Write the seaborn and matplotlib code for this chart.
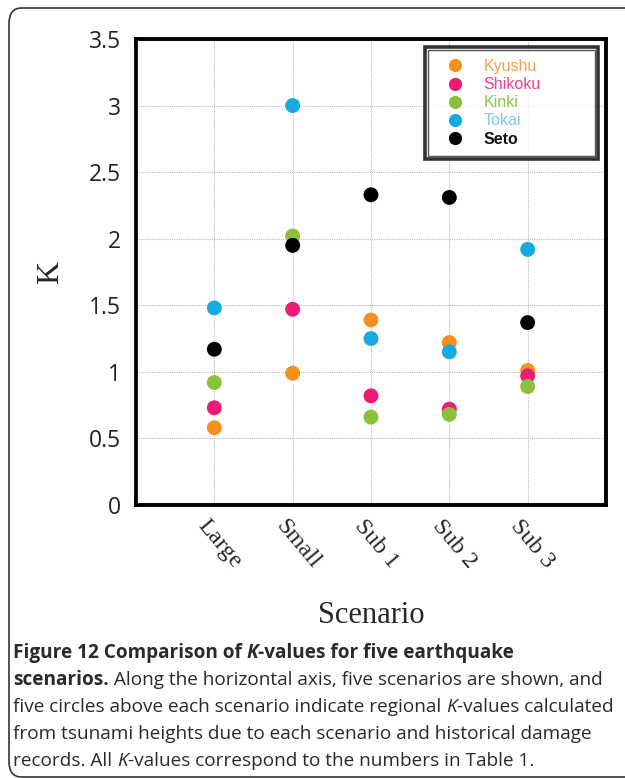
import matplotlib
matplotlib.use("Agg")
import matplotlib.pyplot as plt
import matplotlib.transforms as mtransforms
from matplotlib.lines import Line2D
from matplotlib.patches import FancyBboxPatch, Rectangle
import seaborn as sns
import pandas as pd

scenarios = ["Large", "Small", "Sub 1", "Sub 2", "Sub 3"]
regions = ["Kyushu", "Shikoku", "Kinki", "Tokai", "Seto"]
kyushu = [0.58, 0.99, 1.39, 1.22, 1.01]
shikoku = [0.73, 1.47, 0.82, 0.72, 0.97]
kinki = [0.92, 2.02, 0.66, 0.68, 0.89]
tokai = [1.48, 3.00, 1.25, 1.15, 1.92]
seto = [1.17, 1.95, 2.33, 2.31, 1.37]
colors = ["#F7901E", "#EC1C74", "#8CBF3A", "#19A9E1", "#000000"]
text_colors = ["#F9A04A", "#EE3F8A", "#8DC63F", "#7DC8F0", "#111111"]
yticks = [0, 0.5, 1, 1.5, 2, 2.5, 3, 3.5]
ytick_labels = ["0", "0.5", "1", "1.5", "2", "2.5", "3", "3.5"]

values = [kyushu, shikoku, kinki, tokai, seto]
rows = []
for reg, vals in zip(regions, values):
    for sc, v in zip(scenarios, vals):
        rows.append({"Scenario": sc, "Region": reg, "K": v})
df = pd.DataFrame(rows)

sns.set_style("white")
fig = plt.figure(figsize=(6.25, 7.78), dpi=100)
ax = fig.add_axes([136/625, 1-505/778, (606-136)/625, (505-39)/778])

sns.scatterplot(data=df, x="Scenario", y="K", hue="Region", hue_order=regions,
                palette=colors, s=115, linewidth=0, ax=ax, legend=False, zorder=3)

ax.set_xlim(-1, 5)
ax.set_ylim(0, 3.5)
ax.tick_params(axis="x", length=0, pad=0)
ax.tick_params(axis="y", length=0, pad=11)
ax.set_yticks(yticks)
ax.set_yticklabels(ytick_labels, fontfamily="Open Sans", fontsize=16.5, color="#222222")
ax.set_xticks(range(len(scenarios)))
ax.set_xticklabels(scenarios, fontfamily="Liberation Serif", fontsize=17.5,
                   rotation=-50, ha="center", va="center", rotation_mode="anchor")
offset = mtransforms.ScaledTranslation(5/100, -39/100, fig.dpi_scale_trans)
for lab in ax.get_xticklabels():
    lab.set_transform(lab.get_transform() + offset)
ax.grid(True, color="#BBBBBB", linestyle=(0, (1, 1)), linewidth=0.8, zorder=0)
ax.set_axisbelow(True)
for sp in ax.spines.values():
    sp.set_visible(True)
    sp.set_color("black")
    sp.set_linewidth(2.8)

ax.set_xlabel("Scenario", fontfamily="Liberation Serif", fontsize=22)
ax.set_ylabel("K", fontfamily="Liberation Serif", fontsize=23)
ax.xaxis.set_label_coords(0.5, -0.205)
ax.yaxis.set_label_coords(-0.150, 0.5)

handles = [Line2D([], [], linestyle="none", marker="o", markersize=9.5,
                  markerfacecolor=c, markeredgewidth=0) for c in colors]
leg = ax.legend(handles, regions, loc="upper left",
                bbox_to_anchor=(0.615, 0.751, 0.368, 0.232), mode="expand",
                frameon=True, fancybox=False, edgecolor="black", fontsize=11.5,
                borderpad=0.75, labelspacing=0.2, handlelength=2.2, handletextpad=0.7,
                borderaxespad=0)
leg.get_frame().set_linewidth(2.6)
for t, c in zip(leg.get_texts(), text_colors):
    t.set_color(c)
    t.set_fontfamily("Liberation Sans")
leg.get_texts()[-1].set_fontweight("bold")

# outer rounded border
border = FancyBboxPatch((9/625, 1-777/778), (700-9)/625, (777-8)/778,
                        boxstyle="round,pad=0,rounding_size=0.02",
                        transform=fig.transFigure, fill=False,
                        edgecolor="#333333", linewidth=1.2, clip_on=False)
fig.patches.append(border)

fig.canvas.draw()
renderer = fig.canvas.get_renderer()

# inner line of the legend's double frame
lb = leg.get_frame().get_window_extent(renderer=renderer)
ins = 2.8
inner = Rectangle(((lb.x0 + ins)/625, (lb.y0 + ins)/778),
                  (lb.width - 2*ins)/625, (lb.height - 2*ins)/778,
                  transform=fig.transFigure, fill=False, edgecolor="#555555",
                  linewidth=1.0, zorder=10)
fig.patches.append(inner)

# caption with mixed styles
cap_font = "Open Sans"
fs = 13.7
lines = [
    [("Figure 12 Comparison of ", "bold", "normal"), ("K", "bold", "italic"),
     ("-values for five earthquake", "bold", "normal")],
    [("scenarios.", "bold", "normal"),
     (" Along the horizontal axis, five scenarios are shown, and", "normal", "normal")],
    [("five circles above each scenario indicate regional ", "normal", "normal"),
     ("K", "normal", "italic"), ("-values calculated", "normal", "normal")],
    [("from tsunami heights due to each scenario and historical damage", "normal", "normal")],
    [("records. All ", "normal", "normal"), ("K", "normal", "italic"),
     ("-values correspond to the numbers in Table 1.", "normal", "normal")],
]
baselines = [658, 685, 712, 739, 766]
for runs, yb in zip(lines, baselines):
    x = 13
    for txt, wt, st in runs:
        t = fig.text(x/625, 1-yb/778, txt, fontfamily=cap_font, fontsize=fs,
                     fontweight=wt, fontstyle=st, color="#2a2a2a", va="baseline", ha="left")
        bb = t.get_window_extent(renderer=renderer)
        x += bb.width

fig.savefig("out.png", dpi=100)
